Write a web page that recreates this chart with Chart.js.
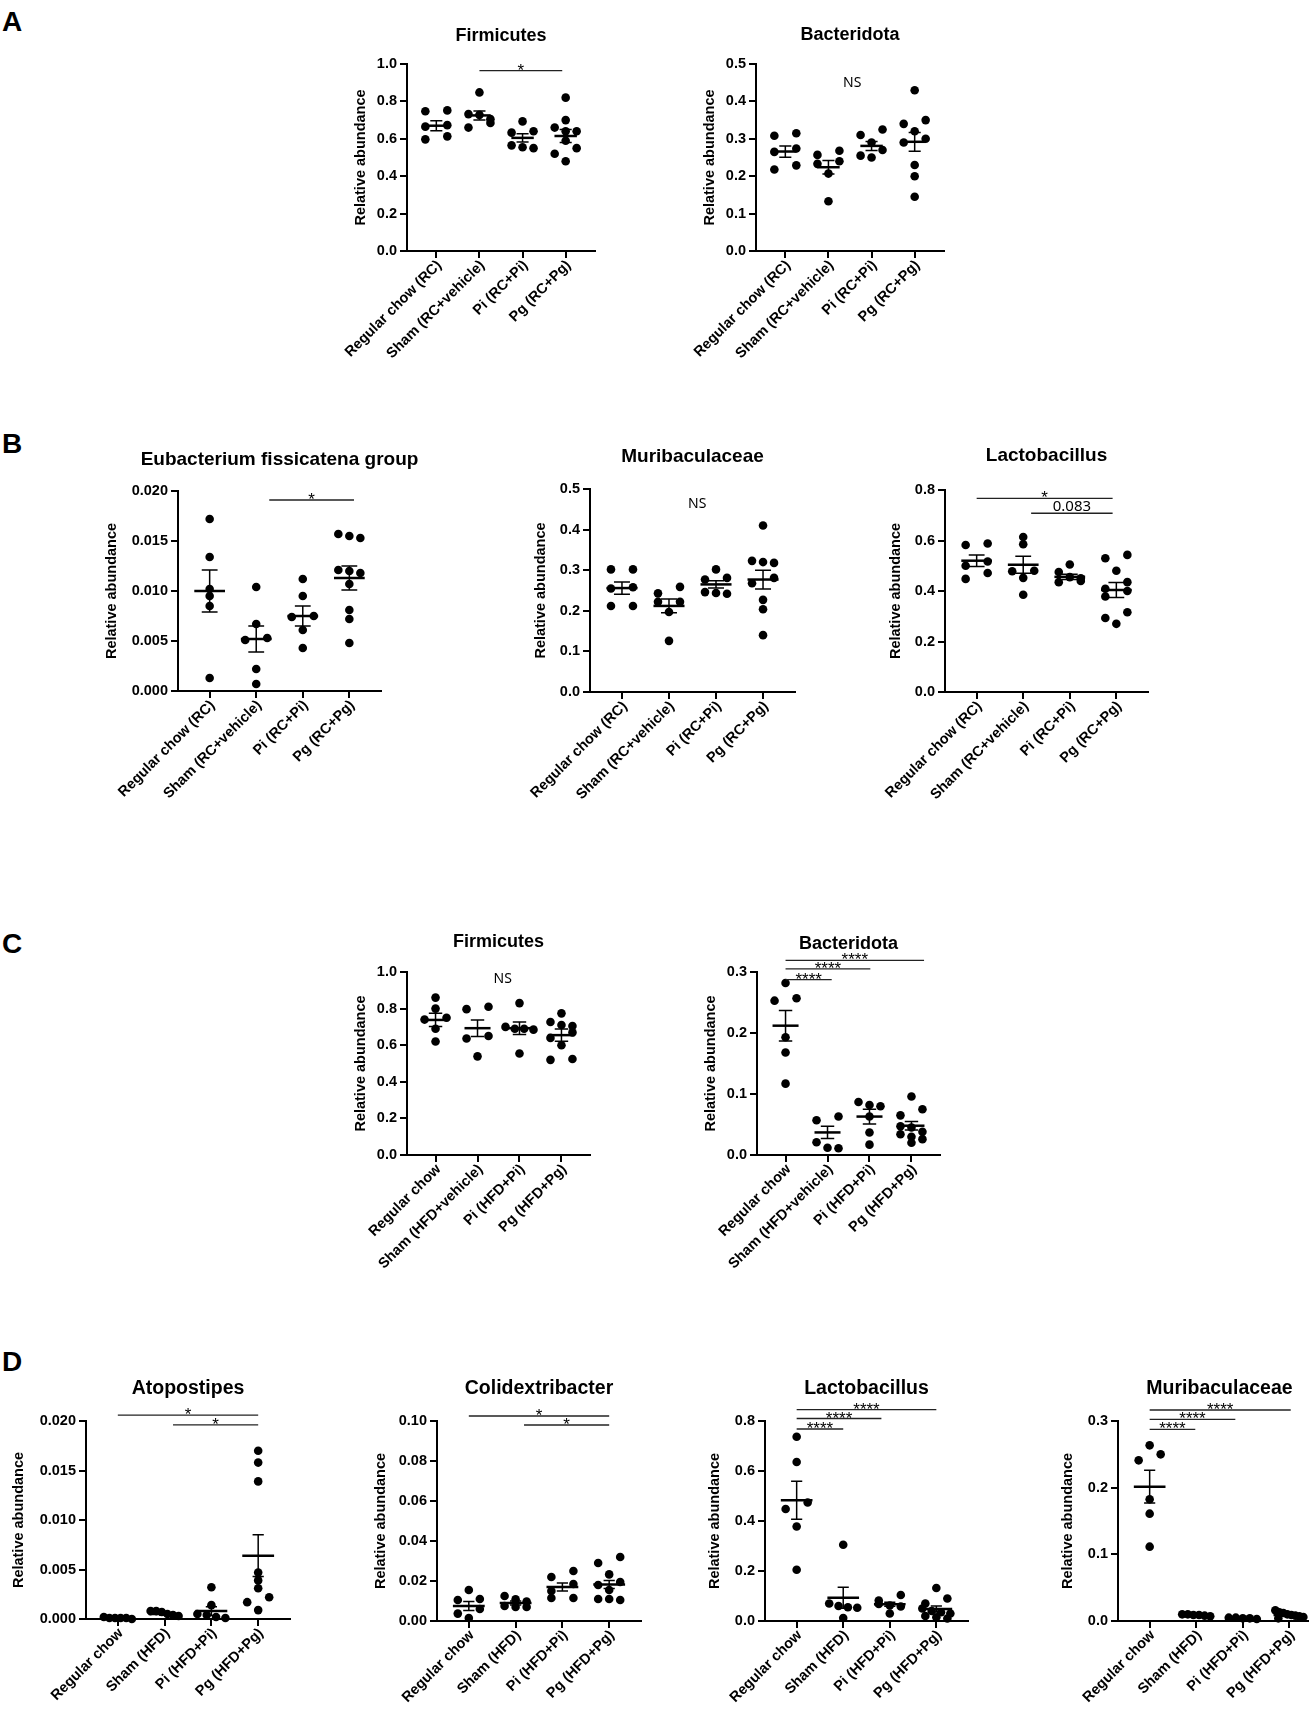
<!DOCTYPE html>
<html>
<head>
<meta charset="utf-8">
<title>Relative abundance</title>
<script src="https://cdn.jsdelivr.net/npm/chart.js@4.4.1/dist/chart.umd.min.js"></script>
<style>
  html, body { margin: 0; padding: 0; background: #fff; }
  body { position: relative; width: 1309px; height: 1717px; overflow: hidden; font-family: "Liberation Sans", Arial, sans-serif; }
  .letter { position: absolute; left: 2px; font-size: 28px; font-weight: bold; line-height: 1; color: #000; }
  canvas { position: absolute; }
</style>
</head>
<body>
<div class="letter" style="top:8px">A</div>
<div class="letter" style="top:430px">B</div>
<div class="letter" style="top:930px">C</div>
<div class="letter" style="top:1348px">D</div>
<script>
// group names
const groupsRC = ["Regular chow (RC)", "Sham (RC+vehicle)", "Pi (RC+Pi)", "Pg (RC+Pg)"];
const groupsHFD = ["Regular chow", "Sham (HFD+vehicle)", "Pi (HFD+Pi)", "Pg (HFD+Pg)"];
const groupsHFDshort = ["Regular chow", "Sham (HFD)", "Pi (HFD+Pi)", "Pg (HFD+Pg)"];

// A - Firmicutes
const aFirmPts = [
  [0.747, 0.752, 0.665, 0.673, 0.597, 0.613],
  [0.848, 0.732, 0.728, 0.705, 0.685, 0.660],
  [0.693, 0.640, 0.633, 0.565, 0.555, 0.550],
  [0.820, 0.700, 0.660, 0.640, 0.640, 0.590, 0.550, 0.520, 0.480]
];
const aFirmMean = [0.670, 0.725, 0.605, 0.615];
const aFirmSem = [0.027, 0.024, 0.022, 0.035];
const aFirmSig = [[2, 3.92, 0.965, "*"]];

// A - Bacteridota
const aBactPts = [
  [0.308, 0.315, 0.265, 0.274, 0.218, 0.229],
  [0.257, 0.268, 0.233, 0.240, 0.207, 0.133],
  [0.325, 0.310, 0.290, 0.270, 0.255, 0.250],
  [0.430, 0.350, 0.340, 0.320, 0.300, 0.290, 0.230, 0.200, 0.145]
];
const aBactMean = [0.266, 0.224, 0.281, 0.292];
const aBactSem = [0.015, 0.018, 0.012, 0.025];
const aBactNote = [2.55, 0.449, "NS"];

// B - Eubacterium fissicatena group
const bEubPts = [
  [0.0172, 0.0134, 0.0102, 0.0095, 0.0085, 0.0013],
  [0.0104, 0.0067, 0.0053, 0.0051, 0.0022, 0.0007],
  [0.0112, 0.0095, 0.0075, 0.0074, 0.0061, 0.0043],
  [0.0157, 0.0155, 0.0153, 0.0121, 0.0120, 0.0118, 0.0107, 0.0081, 0.0072, 0.0048]
];
const bEubMean = [0.0100, 0.0052, 0.0075, 0.0113];
const bEubSem = [0.0021, 0.0013, 0.0010, 0.0012];
const bEubSig = [[2.28, 4.1, 0.0191, "*"]];

// B - Muribaculaceae
const bMuriPts = [
  [0.302, 0.302, 0.258, 0.255, 0.212, 0.212],
  [0.259, 0.243, 0.222, 0.222, 0.197, 0.126],
  [0.302, 0.281, 0.277, 0.246, 0.244, 0.242],
  [0.410, 0.323, 0.320, 0.318, 0.281, 0.268, 0.227, 0.204, 0.140]
];
const bMuriMean = [0.256, 0.212, 0.265, 0.277];
const bMuriSem = [0.015, 0.017, 0.009, 0.023];
const bMuriNote = [2.6, 0.462, "NS"];

// B - Lactobacillus
const bLactoPts = [
  [0.588, 0.582, 0.517, 0.500, 0.471, 0.448],
  [0.614, 0.585, 0.480, 0.478, 0.452, 0.385],
  [0.505, 0.475, 0.455, 0.450, 0.440, 0.435],
  [0.543, 0.530, 0.480, 0.435, 0.409, 0.400, 0.378, 0.316, 0.293, 0.270]
];
const bLactoMean = [0.520, 0.504, 0.456, 0.404];
const bLactoSem = [0.023, 0.034, 0.010, 0.030];
const bLactoSig = [[1, 3.92, 0.767, "*"], [2.17, 3.92, 0.708, "0.083"]];

// C - Firmicutes
const cFirmPts = [
  [0.860, 0.800, 0.750, 0.740, 0.690, 0.620],
  [0.810, 0.797, 0.650, 0.637, 0.539],
  [0.830, 0.700, 0.690, 0.690, 0.685, 0.555],
  [0.774, 0.727, 0.710, 0.705, 0.670, 0.640, 0.600, 0.525, 0.520]
];
const cFirmMean = [0.738, 0.693, 0.693, 0.655];
const cFirmSem = [0.036, 0.045, 0.034, 0.033];
const cFirmNote = [2.6, 0.962, "NS"];

// C - Bacteridota
const cBactPts = [
  [0.282, 0.257, 0.253, 0.193, 0.168, 0.117],
  [0.063, 0.057, 0.021, 0.012, 0.011],
  [0.087, 0.082, 0.080, 0.063, 0.037, 0.017],
  [0.096, 0.075, 0.065, 0.047, 0.045, 0.038, 0.034, 0.030, 0.026, 0.020]
];
const cBactMean = [0.212, 0.037, 0.063, 0.048];
const cBactSem = [0.025, 0.010, 0.012, 0.007];
const cBactSig = [[1, 2.1, 0.2874, "****"], [1, 3.02, 0.305, "****"], [1, 4.3, 0.319, "****"]];

// D - Atopostipes
const dAtopPts = [
  [0.0002, 0.0001, 0.0001, 0.0001, 0.0001, 0.0000],
  [0.0008, 0.0008, 0.0007, 0.0005, 0.0004, 0.0003],
  [0.0032, 0.0014, 0.0005, 0.0004, 0.0002, 0.0001],
  [0.0170, 0.0158, 0.0139, 0.0047, 0.0039, 0.0031, 0.0022, 0.0017, 0.0009]
];
const dAtopMean = [0.0001, 0.0005, 0.0008, 0.0064];
const dAtopSem = [0.00003, 0.0001, 0.00045, 0.0021];
const dAtopSig = [[1, 4, 0.0206, "*"], [2.18, 4, 0.0196, "*"]];

// D - Colidextribacter
const dColidPts = [
  [0.0155, 0.0110, 0.0105, 0.0060, 0.0037, 0.0015],
  [0.0125, 0.0108, 0.0097, 0.0075, 0.0070, 0.0070],
  [0.0250, 0.0220, 0.0185, 0.0150, 0.0115, 0.0115],
  [0.0320, 0.0290, 0.0233, 0.0195, 0.0180, 0.0155, 0.0110, 0.0105, 0.0110]
];
const dColidMean = [0.0075, 0.0090, 0.0170, 0.0183];
const dColidSem = [0.0023, 0.0010, 0.0020, 0.0020];
const dColidSig = [[1, 4, 0.1025, "*"], [2.18, 4, 0.098, "*"]];

// D - Lactobacillus
const dLactoPts = [
  [0.737, 0.636, 0.474, 0.448, 0.378, 0.205],
  [0.305, 0.070, 0.060, 0.055, 0.053, 0.012],
  [0.104, 0.082, 0.068, 0.062, 0.058, 0.030],
  [0.132, 0.090, 0.070, 0.050, 0.040, 0.035, 0.030, 0.020, 0.015, 0.010]
];
const dLactoMean = [0.483, 0.093, 0.067, 0.048];
const dLactoSem = [0.076, 0.042, 0.008, 0.012];
const dLactoSig = [[1, 2, 0.768, "****"], [1, 2.82, 0.81, "****"], [1, 4, 0.8456, "****"]];

// D - Muribaculaceae
const dMuriPts = [
  [0.2635, 0.250, 0.241, 0.1825, 0.161, 0.1115],
  [0.010, 0.010, 0.009, 0.009, 0.008, 0.007],
  [0.005, 0.005, 0.004, 0.004, 0.003],
  [0.016, 0.013, 0.012, 0.010, 0.009, 0.008, 0.007, 0.006, 0.005, 0.004]
];
const dMuriMean = [0.2015, 0.009, 0.004, 0.009];
const dMuriSem = [0.0245, 0.0008, 0.0005, 0.0012];
const dMuriSig = [[1, 1.98, 0.2875, "****"], [1, 2.84, 0.3025, "****"], [1, 4.03, 0.3165, "****"]];

const FONT = '"Liberation Sans", Arial, sans-serif';
const X_MIN = 0.32, X_MAX = 4.68;
const PAD_L = 60, PAD_R = 70, PAD_T = 60, X_H = 150;
const DOT_STEP = 11, ROW_MAX = 28, ROW_GAP = 7;

// where each plot sits on the page (axis corner etc.)
const panels = [
  { title: "Firmicutes", labels: groupsRC, pts: aFirmPts, mean: aFirmMean, sem: aFirmSem, sig: aFirmSig,
    yMax: 1.0, yStep: 0.2, dec: 1, axisX: 407, top: 64, bottom: 250.5, spacing: 43.2, titleY: 36, titleSize: 18, titleOff: 46, meanHalf: 0.26, capHalf: 0.14 },
  { title: "Bacteridota", labels: groupsRC, pts: aBactPts, mean: aBactMean, sem: aBactSem, note: aBactNote,
    yMax: 0.5, yStep: 0.1, dec: 1, axisX: 756, top: 64, bottom: 250.5, spacing: 43.2, titleY: 35, titleSize: 18, titleOff: 46, meanHalf: 0.26, capHalf: 0.14 },
  { title: "Eubacterium fissicatena group", labels: groupsRC, pts: bEubPts, mean: bEubMean, sem: bEubSem, sig: bEubSig,
    yMax: 0.02, yStep: 0.005, dec: 3, axisX: 178, top: 490.7, bottom: 691, spacing: 46.5, titleY: 459, titleSize: 19, titleOff: 66, meanHalf: 0.33, capHalf: 0.17 },
  { title: "Muribaculaceae", labels: groupsRC, pts: bMuriPts, mean: bMuriMean, sem: bMuriSem, note: bMuriNote,
    yMax: 0.5, yStep: 0.1, dec: 1, axisX: 590, top: 489.3, bottom: 692, spacing: 47, titleY: 457, titleSize: 19, titleOff: 49, meanHalf: 0.33, capHalf: 0.17 },
  { title: "Lactobacillus", labels: groupsRC, pts: bLactoPts, mean: bLactoMean, sem: bLactoSem, sig: bLactoSig,
    yMax: 0.8, yStep: 0.2, dec: 1, axisX: 945, top: 489.5, bottom: 691.5, spacing: 46.5, titleY: 455, titleSize: 19, titleOff: 49, meanHalf: 0.33, capHalf: 0.17 },
  { title: "Firmicutes", labels: groupsHFD, pts: cFirmPts, mean: cFirmMean, sem: cFirmSem, note: cFirmNote,
    yMax: 1.0, yStep: 0.2, dec: 1, axisX: 407, top: 972, bottom: 1155, spacing: 42, titleY: 942, titleSize: 18, titleOff: 46, meanHalf: 0.31, capHalf: 0.16 },
  { title: "Bacteridota", labels: groupsHFD, pts: cBactPts, mean: cBactMean, sem: cBactSem, sig: cBactSig,
    yMax: 0.3, yStep: 0.1, dec: 1, axisX: 757, top: 972, bottom: 1155, spacing: 42, titleY: 944, titleSize: 18, titleOff: 46, meanHalf: 0.31, capHalf: 0.16 },
  { title: "Atopostipes", labels: groupsHFDshort, pts: dAtopPts, mean: dAtopMean, sem: dAtopSem, sig: dAtopSig,
    yMax: 0.02, yStep: 0.005, dec: 3, axisX: 86, top: 1420.7, bottom: 1619, spacing: 46.8, titleY: 1388, titleSize: 19.5, titleOff: 67, meanHalf: 0.34, capHalf: 0.12 },
  { title: "Colidextribacter", labels: groupsHFDshort, pts: dColidPts, mean: dColidMean, sem: dColidSem, sig: dColidSig,
    yMax: 0.1, yStep: 0.02, dec: 2, axisX: 437, top: 1420.7, bottom: 1620.7, spacing: 46.7, titleY: 1388, titleSize: 19.5, titleOff: 56, meanHalf: 0.34, capHalf: 0.12 },
  { title: "Lactobacillus", labels: groupsHFDshort, pts: dLactoPts, mean: dLactoMean, sem: dLactoSem, sig: dLactoSig,
    yMax: 0.8, yStep: 0.2, dec: 1, axisX: 765, top: 1420.7, bottom: 1620.7, spacing: 46.5, titleY: 1388, titleSize: 19.5, titleOff: 50, meanHalf: 0.34, capHalf: 0.12 },
  { title: "Muribaculaceae", labels: groupsHFDshort, pts: dMuriPts, mean: dMuriMean, sem: dMuriSem, sig: dMuriSig,
    yMax: 0.3, yStep: 0.1, dec: 1, axisX: 1118, top: 1420.7, bottom: 1620.7, spacing: 46.5, titleY: 1388, titleSize: 19.5, titleOff: 50, meanHalf: 0.34, capHalf: 0.12 }
];

// spread dots with similar values sideways, GraphPad style
function swarmOffsets(values, pxPerY, spacing) {
  const order = values.map((v, i) => i).sort((a, b) => values[b] - values[a]);
  const offs = values.map(() => 0);
  let row = [];
  function flush() {
    const n = row.length;
    let step = n > 2 ? Math.min(DOT_STEP, ROW_MAX / (n - 1)) : DOT_STEP;
    row.forEach((idx, k) => {
      const slot = n === 2 ? (k === 0 ? 1 : -1) : k - (n - 1) / 2;
      offs[idx] = slot * step / spacing;
    });
    row = [];
  }
  order.forEach(i => {
    if (row.length && (values[row[0]] - values[i]) * pxPerY > ROW_GAP) flush();
    row.push(i);
  });
  flush();
  return offs;
}

function makeExtras(p, canvasTop) {
  return {
    id: "extras",
    afterDatasetsDraw(chart) {
      const { ctx, scales: { x, y } } = chart;
      ctx.save();
      ctx.strokeStyle = "#000";
      p.mean.forEach((m, i) => {
        const cx = i + 1;
        const ym = y.getPixelForValue(m);
        ctx.lineWidth = 2.5;
        ctx.beginPath();
        ctx.moveTo(x.getPixelForValue(cx - p.meanHalf), ym);
        ctx.lineTo(x.getPixelForValue(cx + p.meanHalf), ym);
        ctx.stroke();
        const yt = y.getPixelForValue(m + p.sem[i]);
        const yb = y.getPixelForValue(Math.max(0, m - p.sem[i]));
        const xl = x.getPixelForValue(cx - p.capHalf), xr = x.getPixelForValue(cx + p.capHalf);
        ctx.lineWidth = 1.5;
        ctx.beginPath();
        ctx.moveTo(x.getPixelForValue(cx), yt);
        ctx.lineTo(x.getPixelForValue(cx), yb);
        ctx.moveTo(xl, yt); ctx.lineTo(xr, yt);
        ctx.moveTo(xl, yb); ctx.lineTo(xr, yb);
        ctx.stroke();
      });
      ctx.restore();
    },
    afterDraw(chart) {
      const { ctx, chartArea, scales: { x, y } } = chart;
      ctx.save();
      ctx.fillStyle = "#000";
      // title
      ctx.font = "bold " + p.titleSize + "px " + FONT;
      ctx.textAlign = "center";
      ctx.textBaseline = "middle";
      ctx.fillText(p.title, (chartArea.left + chartArea.right) / 2, p.titleY - canvasTop);
      // y title
      ctx.save();
      ctx.translate(chartArea.left - p.titleOff, (chartArea.top + chartArea.bottom) / 2);
      ctx.rotate(-Math.PI / 2);
      ctx.font = "bold 14.5px " + FONT;
      ctx.fillText("Relative abundance", 0, 0);
      ctx.restore();
      // rotated group labels
      ctx.font = "bold 14.5px " + FONT;
      p.labels.forEach((lab, i) => {
        ctx.save();
        ctx.translate(x.getPixelForValue(i + 1) + 3, chartArea.bottom + 12);
        ctx.rotate(-Math.PI / 4);
        ctx.textAlign = "right";
        ctx.textBaseline = "middle";
        ctx.fillText(lab, 0, 0);
        ctx.restore();
      });
      // significance lines
      (p.sig || []).forEach(([x1, x2, v, txt]) => {
        const ly = y.getPixelForValue(v);
        const a = x.getPixelForValue(x1), b = x.getPixelForValue(x2);
        ctx.strokeStyle = "#222";
        ctx.lineWidth = 1.3;
        ctx.beginPath();
        ctx.moveTo(a, ly); ctx.lineTo(b, ly);
        ctx.stroke();
        ctx.textAlign = "center";
        ctx.textBaseline = "alphabetic";
        if (txt.startsWith("*")) {
          ctx.font = "17px " + FONT;
          ctx.fillText(txt, (a + b) / 2, ly + 5);
        } else {
          ctx.font = '15px "Noto Sans", ' + FONT;
          ctx.fillText(txt, (a + b) / 2, ly - 2);
        }
      });
      if (p.note) {
        ctx.font = '14px "Noto Sans", ' + FONT;
        ctx.textAlign = "center";
        ctx.textBaseline = "middle";
        ctx.fillText(p.note[2], x.getPixelForValue(p.note[0]), y.getPixelForValue(p.note[1]));
      }
      ctx.restore();
    }
  };
}

function buildPanel(p) {
  const plotW = (X_MAX - X_MIN) * p.spacing;
  const plotH = p.bottom - p.top;
  const yw = p.titleOff + 14;
  const canvas = document.createElement("canvas");
  canvas.width = Math.round(PAD_L + yw + plotW + PAD_R);
  canvas.height = Math.round(PAD_T + plotH + X_H);
  const canvasTop = p.top - PAD_T;
  canvas.style.left = (p.axisX - yw - PAD_L) + "px";
  canvas.style.top = canvasTop + "px";
  document.body.appendChild(canvas);

  const pxPerY = plotH / p.yMax;
  const datasets = p.pts.map((vals, g) => {
    const offs = swarmOffsets(vals, pxPerY, p.spacing);
    return {
      data: vals.map((v, k) => ({ x: g + 1 + offs[k], y: v })),
      pointRadius: 4.3,
      pointHoverRadius: 4.3,
      pointBackgroundColor: "#000",
      pointBorderWidth: 0,
      showLine: false,
      clip: false
    };
  });

  new Chart(canvas, {
    type: "scatter",
    data: { datasets: datasets },
    options: {
      responsive: false,
      animation: false,
      events: [],
      layout: { padding: { left: PAD_L, right: PAD_R, top: PAD_T, bottom: 0 } },
      plugins: { legend: { display: false }, tooltip: { enabled: false } },
      scales: {
        x: {
          type: "linear",
          min: X_MIN,
          max: X_MAX,
          afterBuildTicks: s => { s.ticks = [1, 2, 3, 4].map(v => ({ value: v })); },
          afterFit: s => { s.height = X_H; },
          ticks: { callback: () => "", autoSkip: false },
          grid: { drawOnChartArea: false, drawTicks: true, tickLength: 7, lineWidth: 2, color: "#000" },
          border: { display: true, color: "#000", width: 2 }
        },
        y: {
          type: "linear",
          min: 0,
          max: p.yMax,
          afterFit: s => { s.width = yw; },
          ticks: {
            stepSize: p.yStep,
            autoSkip: false,
            padding: 3,
            color: "#000",
            font: { family: FONT, size: 14.5, weight: "bold" },
            callback: v => Number(v).toFixed(p.dec)
          },
          grid: { drawOnChartArea: false, drawTicks: true, tickLength: 7, lineWidth: 2, color: "#000" },
          border: { display: true, color: "#000", width: 2 }
        }
      }
    },
    plugins: [makeExtras(p, canvasTop)]
  });
}

panels.forEach(buildPanel);
</script>
</body>
</html>
